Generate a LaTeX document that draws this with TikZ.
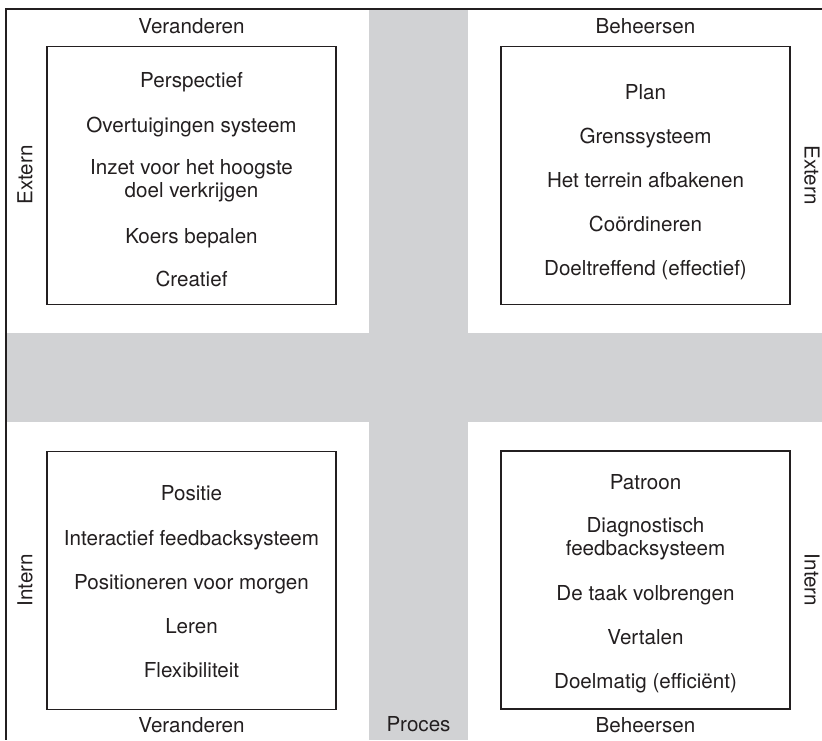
\documentclass[tikz,border=0pt]{standalone}
\usepackage{fontspec}
\setmainfont{TeX Gyre Heros}
\definecolor{band}{HTML}{D1D2D4}
\definecolor{ink}{HTML}{231F20}
\begin{document}
\begin{tikzpicture}[x=1pt,y=-1pt,
  every node/.style={font=\fontsize{20.6}{22.8}\selectfont, text=ink},
  qbox/.style={draw=ink, line width=1.5pt, fill=white, inner sep=0pt, outer sep=0pt,
               minimum width=289pt, minimum height=258pt},
  item/.style={anchor=base, align=center, inner sep=0pt},
  sidelabel/.style={anchor=center, inner sep=0pt}]
\useasboundingbox (0,0) rectangle (822,740);
\fill[white] (0,0) rectangle (822,740);

% grey process cross
\fill[band] (369,9) rectangle (468,740);
\fill[band] (6,333) rectangle (822,422);

% outer frame: top and left edges
\draw[ink, line width=2pt] (822,9) -- (6,9) -- (6,740);

% quadrant boxes
\node[qbox] (tl) at (191.5,175.5) {};
\node[qbox] (tr) at (645.5,175.5) {};
\node[qbox] (bl) at (191.5,580.5) {};
\node[qbox] (br) at (645.5,580) {};

% top-left: Veranderen / Extern (two-line items are placed by their last baseline)
\node[item] (tl1) at (191.5,87) {Perspectief};
\node[item] (tl2) at (191.5,132) {Overtuigingen systeem};
\node[item] (tl3) at (191.5,197.5) {Inzet voor het hoogste\\doel verkrijgen};
\node[item] (tl4) at (191.5,243) {Koers bepalen};
\node[item] (tl5) at (191.5,286) {Creatief};

% top-right: Beheersen / Extern
\node[item] (tr1) at (645.5,99) {Plan};
\node[item] (tr2) at (645.5,143) {Grenssysteem};
\node[item] (tr3) at (645.5,187) {Het terrein afbakenen};
\node[item] (tr4) at (645.5,231) {Coördineren};
\node[item] (tr5) at (645.5,275) {Doeltreffend (effectief)};

% bottom-left: Veranderen / Intern
\node[item] (bl1) at (191.5,500) {Positie};
\node[item] (bl2) at (191.5,545) {Interactief feedbacksysteem};
\node[item] (bl3) at (191.5,589) {Positioneren voor morgen};
\node[item] (bl4) at (191.5,633) {Leren};
\node[item] (bl5) at (191.5,677) {Flexibiliteit};

% bottom-right: Beheersen / Intern
\node[item] (br1) at (645.5,489) {Patroon};
\node[item] (br2) at (645.5,555.5) {Diagnostisch\\feedbacksysteem};
\node[item] (br3) at (645.5,600) {De taak volbrengen};
\node[item] (br4) at (645.5,644) {Vertalen};
\node[item] (br5) at (645.5,688) {Doelmatig (efficiënt)};

% axis labels
\node[item] (topl) at (191.5,33) {Veranderen};
\node[item] (topr) at (645.5,33) {Beheersen};
\node[item] (botl) at (191.5,732) {Veranderen};
\node[item] (botr) at (645.5,732) {Beheersen};
\node[item] (proc) at (418.5,731) {Proces};

\node[sidelabel, rotate=90] (extl) at (25,175) {Extern};
\node[sidelabel, rotate=-90] (extr) at (812,175) {Extern};
\node[sidelabel, rotate=90] (intl) at (25,580) {Intern};
\node[sidelabel, rotate=-90] (intr) at (812,580) {Intern};
\end{tikzpicture}
\end{document}
